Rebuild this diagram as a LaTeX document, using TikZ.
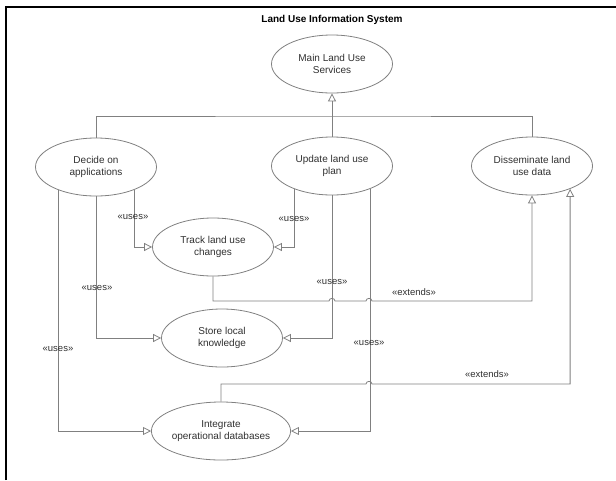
\documentclass[tikz,border=0pt]{standalone}
\usepackage{fontspec}
\setmainfont{Liberation Sans}
\usetikzlibrary{shapes.geometric,arrows.meta}
\definecolor{ln}{HTML}{808080}
\definecolor{tx}{HTML}{303030}
\begin{document}
\begin{tikzpicture}[x=1pt,y=-1pt,
  uc/.style={ellipse,draw=ln,line width=0.8pt,minimum width=121pt,minimum height=58pt,inner sep=0pt,align=center,font=\fontsize{10}{12.5}\selectfont,text=tx},
  conn/.style={draw=ln,line width=0.8pt},
  gen/.style={conn,-{Triangle[open,length=8pt,width=8pt]}},
  lbl/.style={font=\fontsize{9.5}{11}\selectfont,text=tx,inner sep=0pt}]
\useasboundingbox (0,0) rectangle (616,480);
\draw[line width=2pt] (6,480) -- (6,7) -- (616,7);

\node[font=\bfseries\fontsize{10}{12}\selectfont,text=black] (title) at (332,20) {Land Use Information System};

\node[uc] (main)   at (332,64)  {Main Land Use\\Services};
\node[uc] (decide) at (96,167)  {Decide on\\applications};
\node[uc] (update) at (332,166) {Update land use\\plan};
\node[uc] (dissem) at (532,166) {Disseminate land\\use data};
\node[uc] (track)  at (213,247) {Track land use\\changes};
\node[uc] (store)  at (222,338) {Store local\\knowledge};
\node[uc] (integ)  at (221,431) {Integrate\\operational databases};

% generalization to main
\coordinate (bar) at (332,116);
\draw[conn] (decide.north) |- (bar) -| (dissem.north);
\draw[conn] (update.north) -- (bar);
\draw[gen] (bar) -- (main.south);

% uses
\draw[gen] (decide.-31.6) |- (track.west);
\draw[gen] (decide.south) |- (store.west);
\draw[gen] (decide.-148.4) |- (integ.west);
\draw[gen] (update.-148.4) |- (track.east);
\draw[gen] (update.south) |- (store.east);
\draw[gen] (update.-31.6) |- (integ.east);

% extends
\draw[gen] (track.south) -- (track.south |- 0,301) -- (329,301)
  .. controls (329,297.5) and (335,297.5) .. (335,301) -- (366,301)
  .. controls (366,297.5) and (372,297.5) .. (372,301) -| (dissem.south);
\draw[gen] (integ.north) -- (integ.north |- 0,384) -- (366,384)
  .. controls (366,380.5) and (372,380.5) .. (372,384) -| (dissem.-31.6);

% labels
\node[lbl] (l1) at (133,217) {«uses»};
\node[lbl] (l2) at (294,219) {«uses»};
\node[lbl] (l3) at (97,288)  {«uses»};
\node[lbl] (l4) at (58,349)  {«uses»};
\node[lbl] (l5) at (332,282) {«uses»};
\node[lbl] (l6) at (369,343) {«uses»};
\node[lbl] (l7) at (414,292) {«extends»};
\node[lbl] (l8) at (487,374) {«extends»};
\end{tikzpicture}
\end{document}
